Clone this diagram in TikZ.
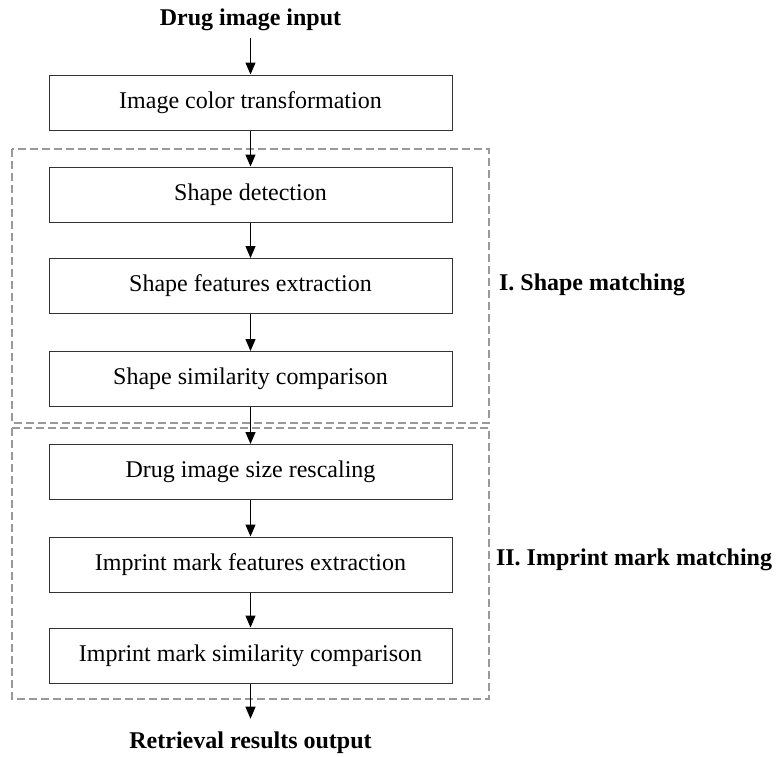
\documentclass[tikz,border=0pt]{standalone}
\usepackage{fontspec}
\setmainfont{Liberation Serif}
\usepackage{tikz}
\usetikzlibrary{arrows.meta}

\begin{document}
\begin{tikzpicture}[x=0.5pt,y=-0.5pt,font=\fontsize{12}{14}\selectfont]
\tikzstyle{stage}=[draw=black!80,line width=0.5pt,minimum width=201.5pt,minimum height=27.5pt,inner sep=0pt]
\tikzstyle{group}=[draw=black!40,line width=0.75pt,dash pattern=on 4pt off 2pt]
\tikzstyle{flow}=[-{Triangle[length=6pt,width=5pt]},line width=0.6pt]
\useasboundingbox (0,0) rectangle (779,756);
\draw[group] (12,149) rectangle (489,423);
\draw[group] (12,428) rectangle (489,699);
\node[font=\fontsize{12}{14}\selectfont\bfseries] (in) at (250.5,20){Drug image input};
\node[stage] (b1) at (250.5,102.5){Image color transformation};
\node[stage] (b2) at (250.5,194.5){Shape detection};
\node[stage] (b3) at (250.5,286){Shape features extraction};
\node[stage] (b4) at (250.5,379){Shape similarity comparison};
\node[stage] (b5) at (250.5,472){Drug image size rescaling};
\node[stage] (b6) at (250.5,564.5){Imprint mark features extraction};
\node[stage] (b7) at (250.5,655.5){Imprint mark similarity comparison};
\node[font=\fontsize{12}{14}\selectfont\bfseries,inner sep=6.5pt] (out) at (250.5,743){Retrieval results output};
\node[font=\fontsize{12}{14}\selectfont\bfseries,anchor=west] (g1) at (492,285){I. Shape matching};
\node[font=\fontsize{12}{14}\selectfont\bfseries,anchor=west] (g2) at (489,560){II. Imprint mark matching};
\draw[flow] (in) -- (b1);
\draw[flow] (b1) -- (b2);
\draw[flow] (b2) -- (b3);
\draw[flow] (b3) -- (b4);
\draw[flow] (b4) -- (b5);
\draw[flow] (b5) -- (b6);
\draw[flow] (b6) -- (b7);
\draw[flow] (b7) -- (out);
\end{tikzpicture}
\end{document}
